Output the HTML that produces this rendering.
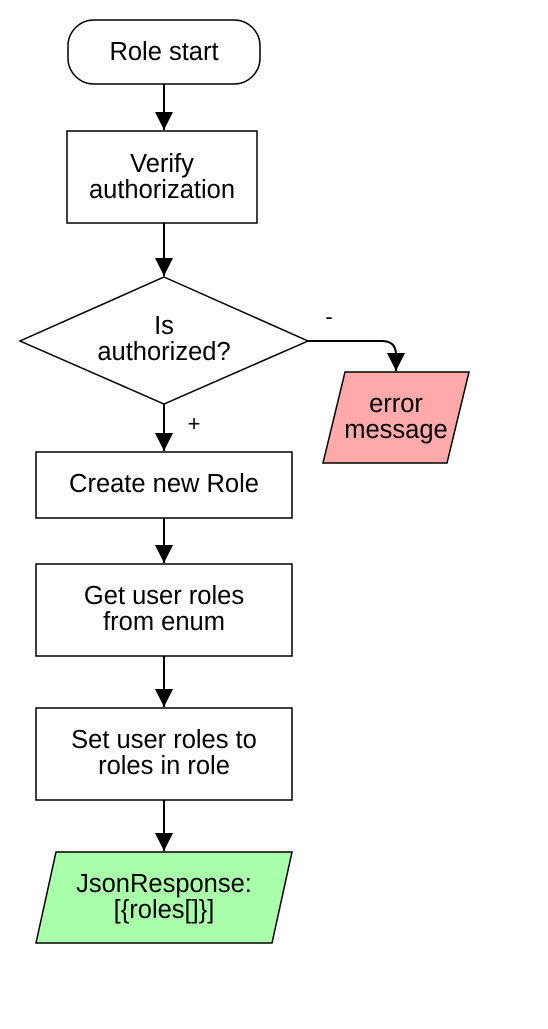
<!DOCTYPE html>
<html><head><style>body{margin:0;background:#fff}</style></head><body>
<svg width="548" height="1024" xmlns="http://www.w3.org/2000/svg" font-family="Liberation Sans, Arial, sans-serif" font-size="25.5" text-anchor="middle">
<defs>
<marker id="b" viewBox="0 0 20 20" markerWidth="20" markerHeight="20" refX="18" refY="10" orient="auto" markerUnits="userSpaceOnUse"><path d="M0,1 L18,10 L0,19 Z" fill="#000"/></marker></defs>
<g stroke="#000" stroke-width="1.5" fill="#fff">
<rect x="68" y="20" width="192" height="64" rx="26"/>
<rect x="67" y="131" width="190" height="92"/>
<polygon points="164,277 308,341 164,404 20,341"/>
<polygon points="345,372 469,372 447,463 323,463" fill="#ffaaaa"/>
<rect x="36" y="452" width="256" height="66"/>
<rect x="36" y="564" width="256" height="92"/>
<rect x="36" y="708" width="256" height="92"/>
<polygon points="56,852 292,852 272,943 36,943" fill="#aaffaa"/>
</g>
<g stroke="#000" stroke-width="2" fill="none">
<line x1="164" y1="84" x2="164" y2="130" marker-end="url(#b)"/>
<line x1="164" y1="223" x2="164" y2="276" marker-end="url(#b)"/>
<path d="M308,341 L382,341 Q396,341 396,355 L396,371" marker-end="url(#b)"/>
<line x1="164" y1="404" x2="164" y2="451" marker-end="url(#b)"/>
<line x1="164" y1="518" x2="164" y2="563" marker-end="url(#b)"/>
<line x1="164" y1="656" x2="164" y2="707" marker-end="url(#b)"/>
<line x1="164" y1="800" x2="164" y2="851" marker-end="url(#b)"/>
</g>
<g fill="#000">
<text x="164" y="60">Role start</text>
<text x="162" y="172">Verify</text>
<text x="162" y="198">authorization</text>
<text x="164" y="334">Is</text>
<text x="164" y="360">authorized?</text>
<text x="329" y="324" font-size="22">-</text>
<text x="194" y="431" font-size="22">+</text>
<text x="396" y="412">error</text>
<text x="396" y="438">message</text>
<text x="164" y="492">Create new Role</text>
<text x="164" y="604">Get user roles</text>
<text x="164" y="630">from enum</text>
<text x="164" y="748">Set user roles to</text>
<text x="164" y="774">roles in role</text>
<text x="164" y="892">JsonResponse:</text>
<text x="164" y="918">[{roles[]}]</text>
</g>
</svg>
</body></html>
